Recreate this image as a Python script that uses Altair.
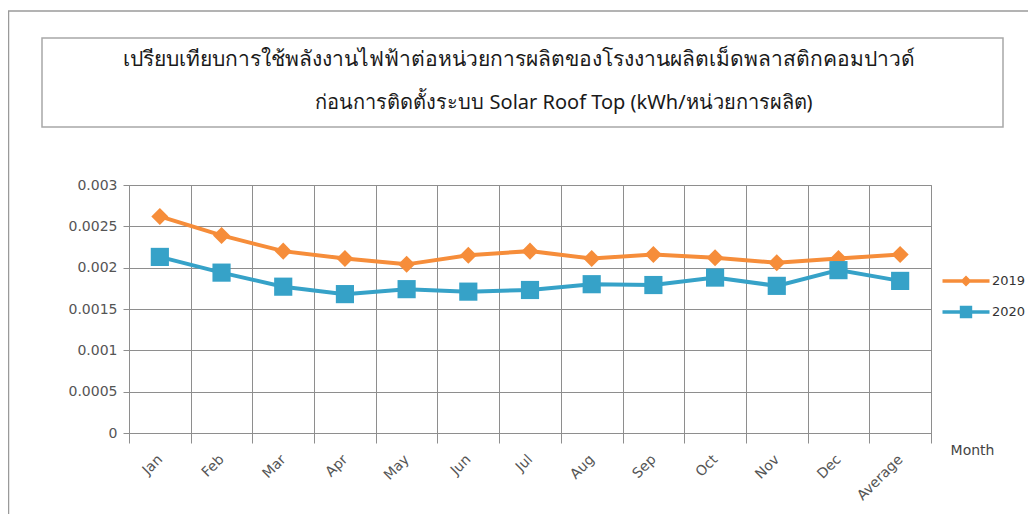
import altair as alt
import pandas as pd

months = ["Jan", "Feb", "Mar", "Apr", "May", "Jun", "Jul", "Aug", "Sep", "Oct", "Nov", "Dec", "Average"]
years = ["2019", "2020"]
values_2019 = [0.00262, 0.00239, 0.00220, 0.00211, 0.00204, 0.00215, 0.00220, 0.00211, 0.00216, 0.00212, 0.00206, 0.00211, 0.00216]
values_2020 = [0.00213, 0.00194, 0.00177, 0.00168, 0.00174, 0.00171, 0.00173, 0.00180, 0.00179, 0.00188, 0.00178, 0.00197, 0.00184]
y_ticks = [0, 0.0005, 0.001, 0.0015, 0.002, 0.0025, 0.003]
title_line1 = "เปรียบเทียบการใช้พลังงานไฟฟ้าต่อหน่วยการผลิตของโรงงานผลิตเม็ดพลาสติกคอมปาวด์"
title_line2 = "ก่อนการติดตั้งระบบ Solar Roof Top (kWh/หน่วยการผลิต)"
x_title = "Month"

colors = ["#F68D3A", "#36A2C8"]

rows = []
for m, a, b in zip(months, values_2019, values_2020):
    rows.append({"month": m, "year": "2019", "value": a})
    rows.append({"month": m, "year": "2020", "value": b})
df = pd.DataFrame(rows)

FONT = "DejaVu Sans"
GRID = "#8e8e8e"

x_enc = alt.X(
    "month:N",
    sort=months,
    scale=alt.Scale(domain=months, paddingInner=0, paddingOuter=0),
    axis=alt.Axis(
        title=x_title, titleX=843, titleY=17, titleAlign="center", titleBaseline="middle",
        titleFont=FONT, titleFontSize=14, titleFontWeight="normal", titleColor="#444",
        labelAngle=-45, labelAlign="right", labelBaseline="middle",
        labelFont=FONT, labelFontSize=14, labelColor="#555", labelPadding=14,
        bandPosition=0, grid=True, gridColor=GRID, gridWidth=1,
        ticks=True, tickSize=10, tickColor=GRID, tickBand="extent",
        domainColor=GRID, domainWidth=1,
    ),
)
y_enc = alt.Y(
    "value:Q",
    scale=alt.Scale(domain=[0, 0.003], nice=False),
    axis=alt.Axis(
        title=None, values=y_ticks, format="~g",
        labelFont=FONT, labelFontSize=14, labelColor="#555", labelPadding=6,
        grid=True, gridColor=GRID, gridWidth=1,
        ticks=True, tickSize=6, tickColor=GRID, domain=False,
    ),
)
color_scale = alt.Scale(domain=years, range=colors)

path19 = "M-2.35,-0.18H2.35V0.18H-2.35Z M0,-0.55L0.55,0L0,0.55L-0.55,0Z"
path20 = "M-2.35,-0.18H2.35V0.18H-2.35Z M-0.62,-0.62H0.62V0.62H-0.62Z"
leg = alt.Legend(
    title=None, orient="none", legendX=827, legendY=86, padding=0,
    symbolSize=400, labelFont=FONT, labelFontSize=13, labelColor="#333",
    labelOffset=16, rowPadding=14, symbolStrokeWidth=0,
)
color_enc = alt.Color("year:N", scale=color_scale, legend=leg)

lines = alt.Chart(df).mark_line(strokeWidth=4).encode(x=x_enc, y=y_enc, color=color_enc)
pts19 = alt.Chart(df).transform_filter("datum.year == '2019'").mark_point(
    shape="diamond", filled=True, size=290, opacity=1
).encode(x=x_enc, y=y_enc, color=color_enc)
pts20 = alt.Chart(df).transform_filter("datum.year == '2020'").mark_point(
    shape="square", filled=True, size=330, opacity=1
).encode(x=x_enc, y=y_enc, color=color_enc)

legend_layer = alt.Chart(df).mark_point(filled=True, size=0).encode(
    x=x_enc, y=y_enc,
    color=color_enc,
    shape=alt.Shape("year:N", scale=alt.Scale(domain=years, range=[path19, path20]), legend=leg),
)

one = pd.DataFrame({"k": [0]})
box = alt.Chart(one).mark_rect(fill="white", stroke="#a8a8a8", strokeWidth=1.5).encode(
    x=alt.value(-87), x2=alt.value(874), y=alt.value(-147), y2=alt.value(-58)
)
frame_left = alt.Chart(one).mark_rule(stroke="#9a9a9a", strokeWidth=1.5).encode(
    x=alt.value(-120.5), y=alt.value(-174), y2=alt.value(330)
)
frame_top = alt.Chart(one).mark_rule(stroke="#9a9a9a", strokeWidth=1.5).encode(
    x=alt.value(-121), x2=alt.value(900), y=alt.value(-174)
)
t1 = alt.Chart(one).mark_text(
    text=title_line1, font=FONT, fontSize=21, fontWeight="normal", color="#1a1a1a",
    align="center", baseline="middle"
).encode(x=alt.value(390), y=alt.value(-125))
t2 = alt.Chart(one).mark_text(
    text=title_line2, font="Noto Sans", fontSize=20, fontWeight="normal", color="#1a1a1a",
    align="center", baseline="middle"
).encode(x=alt.value(435), y=alt.value(-82))

chart = alt.layer(
    frame_left, frame_top, box, t1, t2, lines, pts19, pts20, legend_layer
).properties(
    width=802, height=248,
    autosize=alt.AutoSizeParams(type="none"),
    padding={"left": 121, "top": 177, "right": 97, "bottom": 81},
    background="white",
).configure_view(stroke=GRID, strokeWidth=1)

chart.save("out.html", embed_options={"renderer": "svg", "actions": False})
